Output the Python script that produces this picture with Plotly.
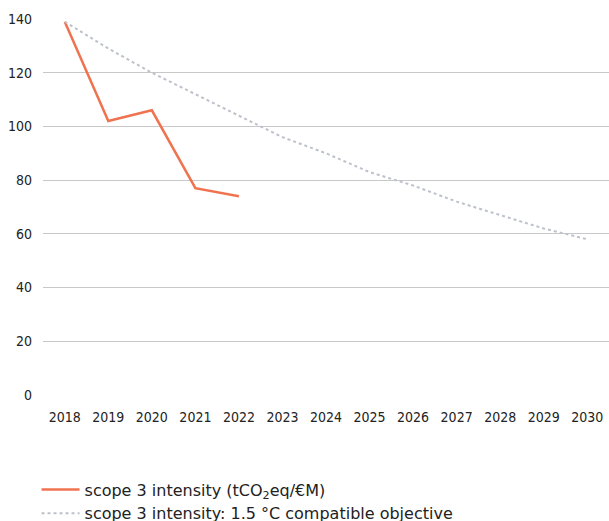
import plotly.graph_objects as go

years = ["2018", "2019", "2020", "2021", "2022", "2023", "2024", "2025", "2026", "2027", "2028", "2029", "2030"]
actual_years = ["2018", "2019", "2020", "2021", "2022"]
actual_values = [139, 102, 106, 77, 74]
objective_values = [139, 129, 120, 112, 104, 96, 90, 83, 78, 72, 67, 62, 58]
y_ticks = [0, 20, 40, 60, 80, 100, 120, 140]

tick_font = dict(family="DejaVu Sans Condensed, Roboto, sans-serif", size=14, color="#222222")
legend_font = dict(family="DejaVu Sans, sans-serif", size=16, color="#222222")

fig = go.Figure()
fig.add_trace(go.Scatter(
    x=actual_years, y=actual_values, mode="lines",
    name="scope 3 intensity (tCO<sub>2</sub>eq/€M)",
    line=dict(color="#F0734F", width=2.5),
))
fig.add_trace(go.Scatter(
    x=years, y=objective_values, mode="lines",
    name="scope 3 intensity: 1.5 °C compatible objective",
    line=dict(color="#BCC1CA", width=2, dash="dot"),
))

fig.update_layout(
    width=609, height=521,
    margin=dict(l=43, r=0, t=19, b=126, autoexpand=False),
    paper_bgcolor="white", plot_bgcolor="white",
    font=legend_font,
    showlegend=True,
    legend=dict(
        orientation="v", xref="container", yref="container",
        x=0.06, xanchor="left", y=0.093, yanchor="top",
        font=legend_font,
        tracegroupgap=0, itemwidth=38, bgcolor="rgba(0,0,0,0)",
    ),
    xaxis=dict(
        type="category", categoryorder="array", categoryarray=years,
        range=[-0.5, 12.5], showgrid=False, zeroline=False, showline=False,
        ticks="", ticklabelstandoff=12, automargin=False,
        tickfont=tick_font,
    ),
    yaxis=dict(
        range=[0, 140], tickvals=y_ticks, showgrid=True, gridcolor="#C8C8C8",
        gridwidth=1, zeroline=False, showline=False, ticks="",
        ticklabelstandoff=10, automargin=False,
        tickfont=tick_font,
    ),
)

fig.write_html(
    "out.html",
    config={"staticPlot": True},
    post_script="document.body.style.margin='0';document.body.style.overflow='hidden';",
)
